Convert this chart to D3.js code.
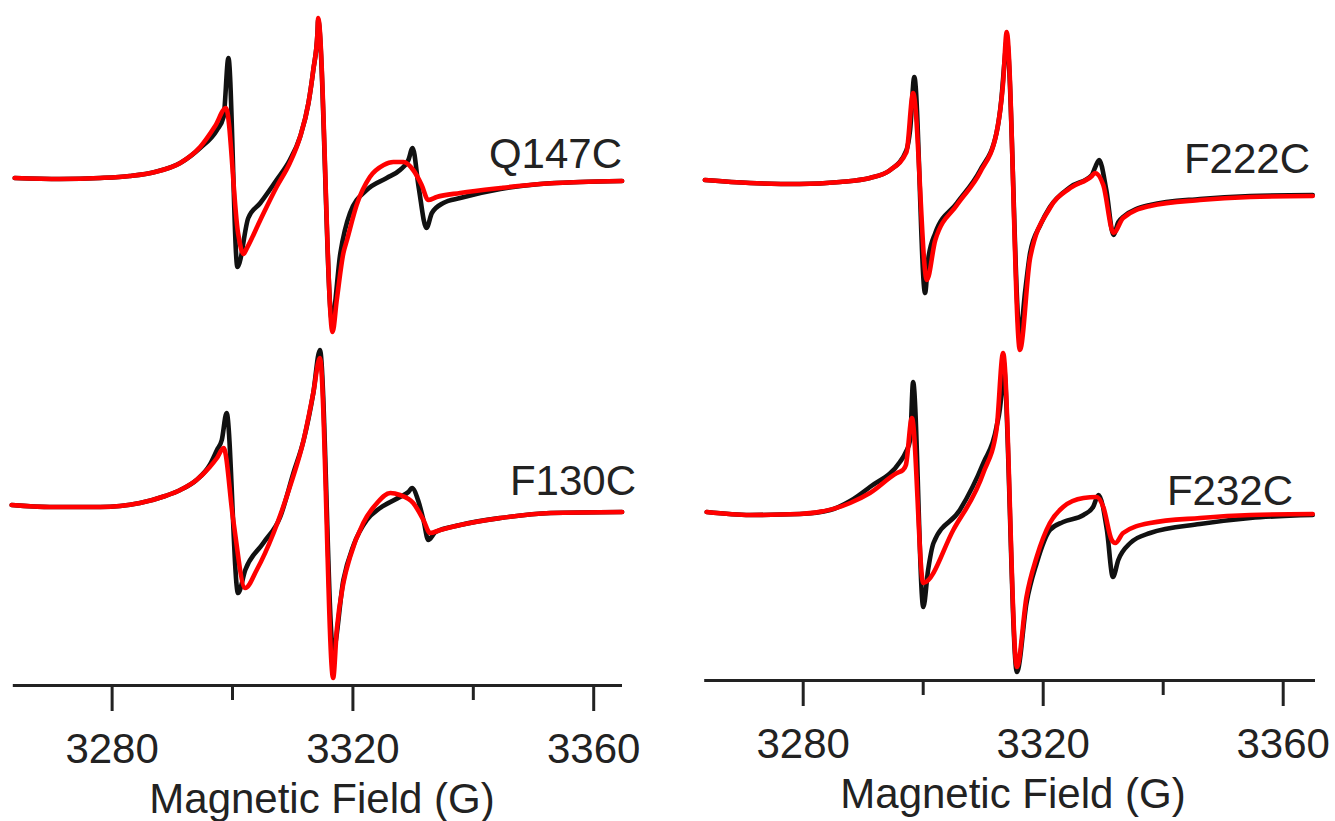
<!DOCTYPE html>
<html>
<head>
<meta charset="utf-8">
<script src="https://cdn.jsdelivr.net/npm/d3@7"></script>
<style>
  html, body { margin: 0; padding: 0; background: #fff; }
  svg { display: block; }
  text { font-family: "Liberation Sans", Arial, sans-serif; fill: #222; }
</style>
</head>
<body>
<svg id="chart" width="1335" height="821"></svg>
<script>
// EPR spectra: field (G) vs derivative intensity (a.u., relative to each trace's baseline)
// Each trace: list of [field, intensity] pairs.

const tickMajor = [3280, 3320, 3360];
const tickMinor = [3300, 3340];
const axisTitle = "Magnetic Field (G)";
const sampleNames = ["Q147C", "F130C", "F222C", "F232C"];

const q147cBlack = [
  [3263.9, 0.00], [3271.4, -0.01], [3278.1, 0.00], [3283.0, 0.02], [3287.2, 0.06],
  [3291.4, 0.15], [3294.7, 0.30], [3297.5, 0.48], [3298.6, 0.61], [3299.4, 1.20],
  [3300.9, -0.89], [3302.7, -0.40], [3304.7, -0.25], [3307.4, -0.02], [3309.6, 0.18],
  [3311.3, 0.41], [3312.7, 0.75], [3313.5, 1.08], [3314.2, 1.45], [3314.3, 1.58],
  [3316.6, -1.42], [3318.0, -0.75], [3319.6, -0.35], [3322.4, -0.12], [3325.7, 0.00],
  [3327.9, 0.08], [3329.3, 0.18], [3330.0, 0.30], [3331.0, -0.09], [3332.3, -0.50],
  [3333.2, -0.35], [3335.1, -0.25], [3337.9, -0.20], [3344.6, -0.11], [3351.2, -0.06],
  [3357.9, -0.04], [3364.8, -0.03]
];
const q147cRed = [
  [3263.9, 0.00], [3271.4, -0.01], [3278.1, 0.00], [3283.0, 0.02], [3287.2, 0.06],
  [3291.4, 0.15], [3294.7, 0.31], [3297.2, 0.52], [3299.0, 0.70], [3301.0, -0.55],
  [3301.9, -0.76], [3302.4, -0.71], [3304.7, -0.42], [3307.4, -0.09], [3309.6, 0.15],
  [3311.3, 0.41], [3312.7, 0.75], [3313.5, 1.08], [3314.2, 1.45], [3314.3, 1.60],
  [3316.7, -1.54], [3317.4, -1.22], [3318.5, -0.75], [3319.1, -0.62], [3320.7, -0.27],
  [3322.9, 0.01], [3325.2, 0.13], [3326.8, 0.16], [3328.5, 0.16], [3330.1, 0.08],
  [3331.5, -0.07], [3332.6, -0.22], [3334.0, -0.19], [3337.9, -0.15], [3344.6, -0.10],
  [3351.2, -0.06], [3357.9, -0.04], [3364.8, -0.03]
];

const f130cBlack = [
  [3263.4, 0.00], [3269.7, -0.02], [3278.1, -0.02], [3284.7, 0.02], [3288.9, 0.09],
  [3291.4, 0.15], [3294.1, 0.25], [3296.3, 0.40], [3297.5, 0.55], [3298.3, 0.65],
  [3299.1, 0.92], [3301.0, -0.88], [3302.2, -0.65], [3305.2, -0.38], [3308.0, -0.12],
  [3310.2, 0.32], [3311.9, 0.65], [3313.5, 1.12], [3314.6, 1.55], [3316.8, -1.45],
  [3318.5, -0.75], [3320.2, -0.40], [3322.4, -0.15], [3324.6, -0.03], [3327.9, 0.08],
  [3329.3, 0.13], [3329.9, 0.17], [3330.9, 0.05], [3331.8, -0.15], [3332.6, -0.35],
  [3333.8, -0.27], [3337.9, -0.20], [3344.6, -0.13], [3352.9, -0.08], [3364.8, -0.07]
];
const f130cRed = [
  [3263.4, 0.00], [3269.7, -0.02], [3278.1, -0.02], [3284.7, 0.02], [3288.9, 0.09],
  [3291.4, 0.15], [3294.1, 0.25], [3296.3, 0.38], [3297.5, 0.47], [3298.6, 0.57],
  [3300.2, -0.15], [3302.2, -0.83], [3304.1, -0.65], [3306.9, -0.28], [3309.6, 0.18],
  [3311.9, 0.65], [3313.5, 1.12], [3314.6, 1.47], [3316.8, -1.73], [3317.4, -1.25],
  [3318.5, -0.78], [3319.6, -0.52], [3321.8, -0.18], [3324.1, 0.02], [3326.3, 0.12],
  [3327.9, 0.10], [3330.1, 0.02], [3331.8, -0.15], [3332.9, -0.28], [3334.6, -0.25],
  [3337.9, -0.20], [3344.6, -0.13], [3352.9, -0.08], [3364.8, -0.07]
];

const f222cBlack = [
  [3263.7, 0.01], [3271.2, -0.02], [3279.5, -0.03], [3286.2, -0.01], [3291.2, 0.03],
  [3294.6, 0.11], [3297.3, 0.31], [3297.9, 0.51], [3298.6, 1.04], [3300.4, -1.12],
  [3300.9, -0.79], [3302.1, -0.52], [3305.7, -0.22], [3309.6, 0.11], [3312.3, 0.48],
  [3313.1, 0.81], [3313.7, 1.24], [3314.0, 1.41], [3316.2, -1.54], [3317.1, -1.09],
  [3317.9, -0.72], [3319.6, -0.44], [3321.2, -0.26], [3324.6, -0.06], [3328.2, 0.06],
  [3328.7, 0.13], [3329.4, 0.21], [3330.6, -0.09], [3331.8, -0.54], [3332.6, -0.41],
  [3333.4, -0.36], [3337.9, -0.24], [3346.2, -0.18], [3354.6, -0.15], [3365.0, -0.14]
];
const f222cRed = [
  [3263.7, 0.01], [3271.2, -0.02], [3279.5, -0.03], [3286.2, -0.01], [3291.2, 0.03],
  [3294.6, 0.11], [3297.3, 0.29], [3298.4, 0.88], [3300.7, -0.99], [3302.1, -0.59],
  [3305.7, -0.24], [3309.6, 0.09], [3312.3, 0.48], [3313.4, 0.98], [3314.0, 1.49],
  [3316.2, -1.69], [3317.9, -0.77], [3321.2, -0.27], [3324.6, -0.07], [3328.2, 0.05],
  [3328.7, 0.08], [3330.1, -0.04], [3331.8, -0.52], [3333.4, -0.37], [3337.9, -0.25],
  [3346.2, -0.19], [3354.6, -0.16], [3365.0, -0.15]
];

const f232cBlack = [
  [3264.0, 0.00], [3271.2, -0.03], [3279.5, -0.02], [3284.6, 0.02], [3287.9, 0.11],
  [3291.2, 0.25], [3296.2, 0.50], [3297.2, 0.60], [3297.9, 0.72], [3298.4, 1.30],
  [3300.1, -0.95], [3300.9, -0.58], [3301.8, -0.31], [3306.2, 0.02], [3310.1, 0.49],
  [3312.3, 0.85], [3313.1, 1.17], [3313.4, 1.52], [3315.7, -1.60], [3317.3, -0.91],
  [3319.0, -0.51], [3321.2, -0.18], [3323.4, -0.10], [3326.8, -0.03], [3328.4, 0.05],
  [3329.3, 0.17], [3330.7, -0.18], [3331.7, -0.65], [3332.6, -0.48], [3334.6, -0.31],
  [3337.9, -0.21], [3346.2, -0.12], [3354.6, -0.06], [3365.0, -0.03]
];
const f232cRed = [
  [3264.0, 0.00], [3271.2, -0.03], [3279.5, -0.02], [3287.9, 0.09], [3291.2, 0.19],
  [3295.7, 0.39], [3296.7, 0.42], [3297.2, 0.47], [3298.2, 0.94], [3300.1, -0.71],
  [3305.1, -0.18], [3310.1, 0.39], [3312.3, 0.82], [3313.4, 1.59], [3315.7, -1.55],
  [3317.3, -0.85], [3319.0, -0.45], [3321.2, -0.11], [3323.4, 0.05], [3326.8, 0.14],
  [3329.0, 0.15], [3330.1, 0.05], [3331.5, -0.28], [3332.1, -0.31], [3333.4, -0.21],
  [3337.9, -0.11], [3346.2, -0.06], [3354.6, -0.03], [3365.0, -0.02]
];

// vertical offsets of the stacked traces (a.u.)
const offsetTop = [3.27, 3.31];
const offsetBottom = [0, 0];

const svg = d3.select("#chart");
const blackColor = "#111";
const redColor = "#ff0000";
const traceWidth = 4.6;

const panels = [
  {
    xDomain: [3263.5, 3364.7], xRange: [12.3, 621.5], axisY: 685,
    yDomain: [-1.8, 5.05], titleX: 322, titleY: 813,
    traces: [
      { name: sampleNames[0], offset: offsetTop[0], black: q147cBlack, red: q147cRed, labelX: 622, labelY: 168 },
      { name: sampleNames[1], offset: offsetBottom[0], black: f130cBlack, red: f130cRed, labelX: 636, labelY: 495 }
    ]
  },
  {
    xDomain: [3263.5, 3365.3], xRange: [703.7, 1314.5], axisY: 680,
    yDomain: [-1.68, 5.12], titleX: 1013, titleY: 808,
    traces: [
      { name: sampleNames[2], offset: offsetTop[1], black: f222cBlack, red: f222cRed, labelX: 1310, labelY: 173 },
      { name: sampleNames[3], offset: offsetBottom[1], black: f232cBlack, red: f232cRed, labelX: 1293, labelY: 505 }
    ]
  }
];

panels.forEach(p => {
  const x = d3.scaleLinear().domain(p.xDomain).range(p.xRange);
  const y = d3.scaleLinear().domain(p.yDomain).range([p.axisY, 0]);
  const g = svg.append("g");

  // spectra: black trace first, red drawn over it
  p.traces.forEach(t => {
    const line = d3.line()
      .x(d => x(d[0]))
      .y(d => y(d[1] + t.offset))
      .curve(d3.curveMonotoneX);
    g.append("path").datum(t.black)
      .attr("d", line).attr("fill", "none")
      .attr("stroke", blackColor).attr("stroke-width", traceWidth)
      .attr("stroke-linejoin", "round").attr("stroke-linecap", "round");
    g.append("path").datum(t.red)
      .attr("d", line).attr("fill", "none")
      .attr("stroke", redColor).attr("stroke-width", traceWidth)
      .attr("stroke-linejoin", "round").attr("stroke-linecap", "round");
    g.append("text")
      .attr("x", t.labelX).attr("y", t.labelY)
      .attr("text-anchor", "end")
      .attr("font-size", 42)
      .text(t.name);
  });

  // minor ticks
  const minorAxis = d3.axisBottom(x).tickValues(tickMinor).tickSize(15).tickSizeOuter(0).tickFormat("");
  const gMinor = g.append("g").attr("transform", `translate(0,${p.axisY})`).call(minorAxis);
  gMinor.select(".domain").remove();
  gMinor.selectAll(".tick line").attr("stroke", "#222").attr("stroke-width", 3);

  // major ticks with labels and the axis line
  const majorAxis = d3.axisBottom(x).tickValues(tickMajor).tickSize(26).tickSizeOuter(0)
    .tickPadding(22).tickFormat(d3.format("d"));
  const gMajor = g.append("g").attr("transform", `translate(0,${p.axisY})`).call(majorAxis);
  gMajor.select(".domain").attr("stroke", "#222").attr("stroke-width", 3);
  gMajor.selectAll(".tick line").attr("stroke", "#222").attr("stroke-width", 3);
  gMajor.selectAll(".tick text")
    .attr("font-size", 42)
    .attr("font-family", "'Liberation Sans', Arial, sans-serif")
    .attr("fill", "#222");

  g.append("text")
    .attr("x", p.titleX).attr("y", p.titleY)
    .attr("text-anchor", "middle")
    .attr("font-size", 42)
    .text(axisTitle);
});
</script>
</body>
</html>
